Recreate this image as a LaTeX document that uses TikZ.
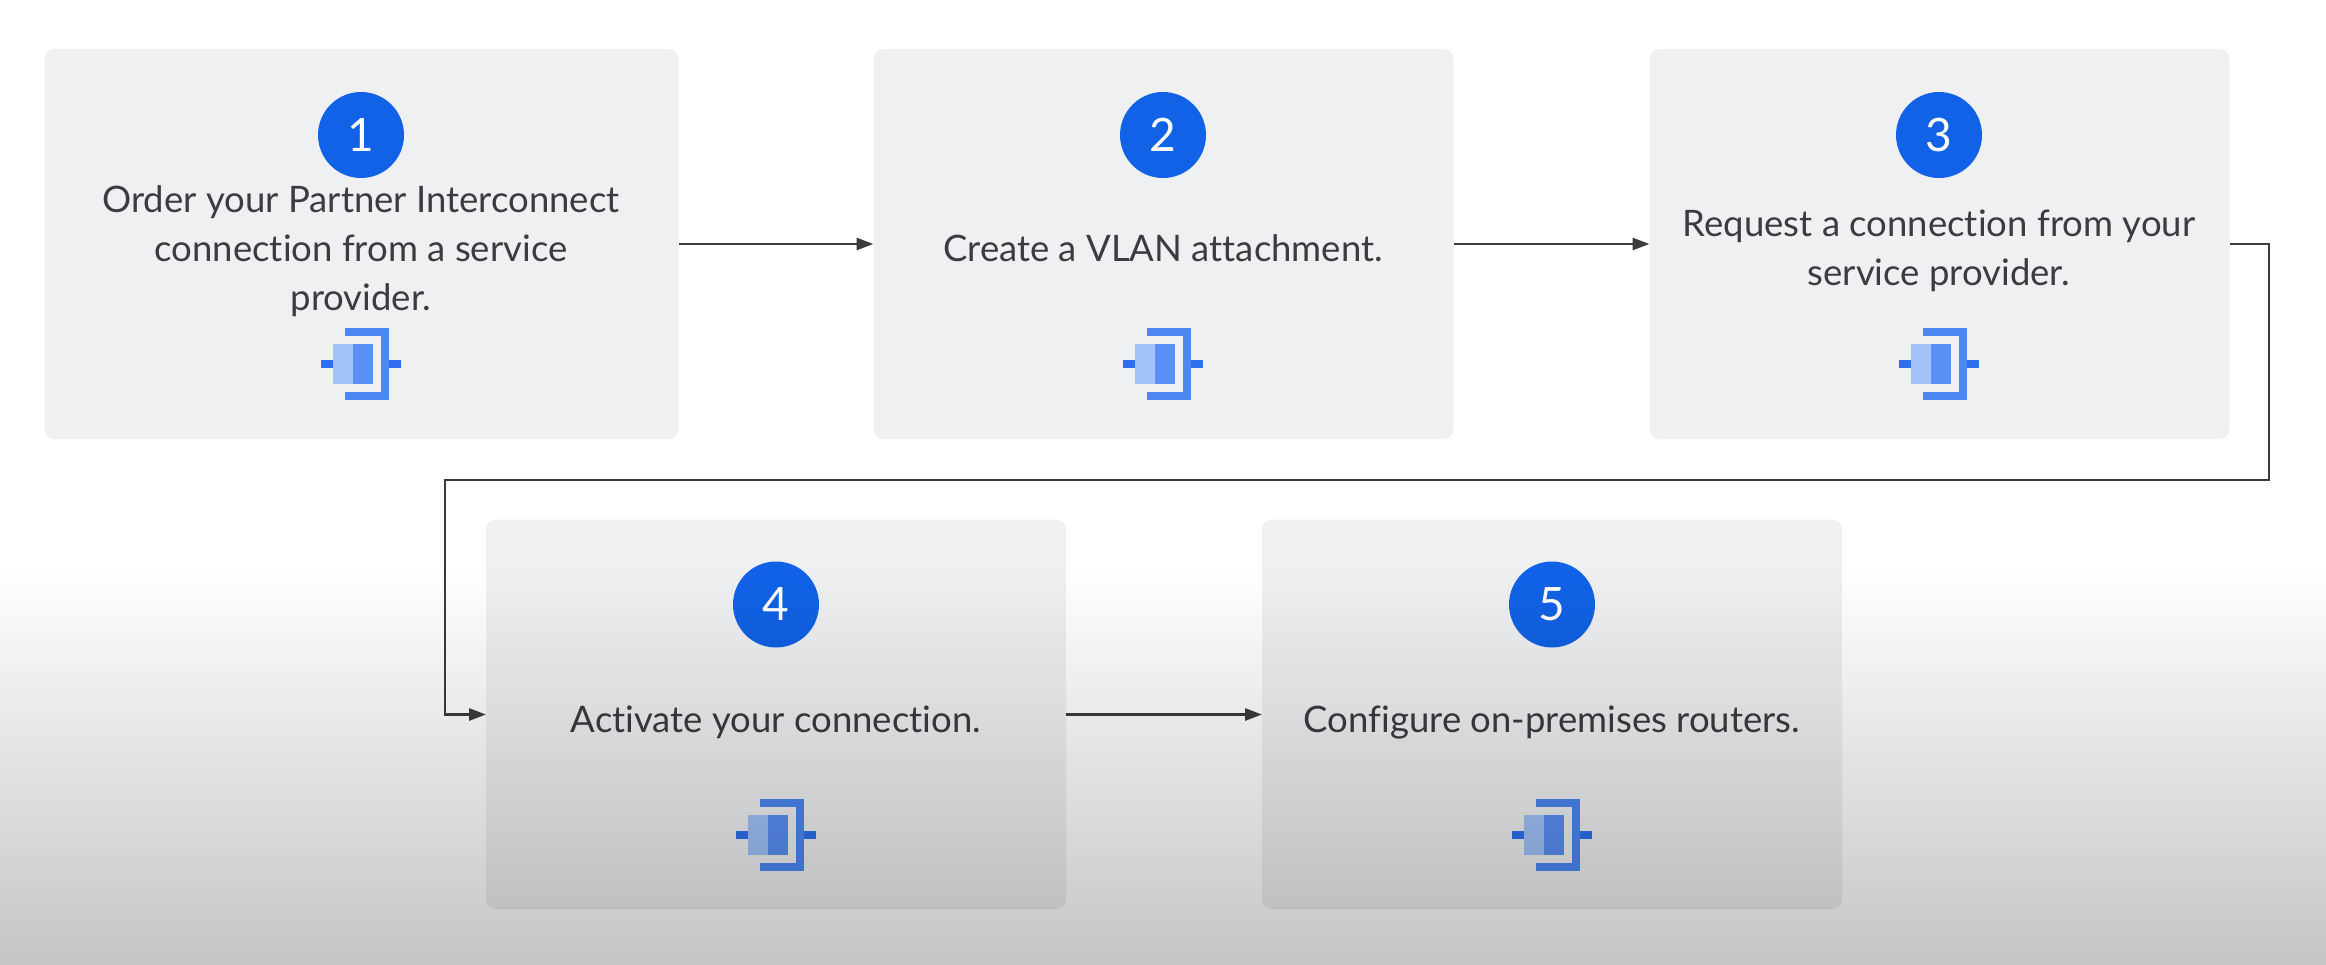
\documentclass[tikz,border=0pt]{standalone}
\usepackage{fontspec}
\setmainfont{Lato}[Ligatures=CommonOff]
\usetikzlibrary{arrows.meta,fadings}

\definecolor{stepfill}{HTML}{EEF0F2}
\definecolor{badgeblue}{HTML}{1162E6}
\definecolor{flowgray}{HTML}{3C3C3C}
\definecolor{labelgray}{HTML}{3A3C3F}
\definecolor{iconmain}{HTML}{4C88F3}
\definecolor{icontick}{HTML}{2F6FEE}
\definecolor{iconpale}{HTML}{A2C3FA}
\definecolor{iconmid}{HTML}{5A90F5}

\tikzfading[name=floorfade, top color=transparent!100, bottom color=transparent!77]

\tikzset{
	pics/linkicon/.style={
		code={
			\fill[iconmain] (-16,-36) rectangle (28,-28);
			\fill[iconmain] (20,-36) rectangle (28,36);
			\fill[iconmain] (-16,28) rectangle (28,36);
			\fill[icontick] (-40,-4) rectangle (-28,4);
			\fill[icontick] (28,-4) rectangle (40,4);
			\fill[iconpale] (-28,-20) rectangle (-8,20);
			\fill[iconmid] (-8,-20) rectangle (12,20);
		}
	}
}

\begin{document}
\begin{tikzpicture}[%
					x=1pt,
					y=-1pt,
					stepbox/.style={
						fill=stepfill,
						rounded corners=10pt,
						outer sep=0pt,
						inner sep=0pt
					},
					badge/.style={
						circle,
						fill=badgeblue,
						text=white,
						minimum size=86pt,
						inner sep=0pt,
						font=\fontsize{46}{46}\selectfont
					},
					steptext/.style={
						align=center,
						anchor=base,
						inner sep=0pt,
						text=labelgray,
						font=\fontsize{36.5}{48.7}\selectfont
					},
					flow/.style={
						draw=flowgray,
						line width=2.8pt,
						-{Triangle[length=17pt,width=12pt]}
					}
				]

				\useasboundingbox (0,0) rectangle (2326,964);

				\node (box1) [stepbox, minimum width=634pt, minimum height=390pt] at (361.5, 244) {};
				\node (box2) [stepbox, minimum width=580pt, minimum height=390pt] at (1163.5, 244) {};
				\node (box3) [stepbox, minimum width=580pt, minimum height=390pt] at (1939.5, 244) {};
				\node (box4) [stepbox, minimum width=580pt, minimum height=390pt] at (776, 714.5) {};
				\node (box5) [stepbox, minimum width=580pt, minimum height=390pt] at (1552, 714.5) {};

				\node (badge1) [badge] at (361, 135) {1};
				\node (badge2) [badge] at (1163, 135) {2};
				\node (badge3) [badge] at (1939, 135) {3};
				\node (badge4) [badge] at (776, 604.5) {4};
				\node (badge5) [badge] at (1552, 604.5) {5};

				\node (text1) [steptext] at (361, 310) {Order your Partner Interconnect\\connection from a service\\provider.};
				\node (text2) [steptext] at (1163, 261) {Create a VLAN attachment.};
				\node (text3) [steptext] at (1939, 285) {Request a connection from your\\service provider.};
				\node (text4) [steptext] at (776, 732) {Activate your connection.};
				\node (text5) [steptext] at (1552, 732) {Configure on-premises routers.};

				\pic at (361, 364) {linkicon};
				\pic at (1163, 364) {linkicon};
				\pic at (1939, 364) {linkicon};
				\pic at (776, 834.5) {linkicon};
				\pic at (1552, 834.5) {linkicon};

				\coordinate (turnright) at (2269, 480);
				\coordinate (turnleft) at (445, 480);

				\draw[flow] (box1) -- (box2);
				\draw[flow] (box2) -- (box3);
				\draw[flow] (box3.east) -| (turnright) -- (turnleft) |- (box4.west);
				\draw[flow] (box4) -- (box5);

				\fill[black, path fading=floorfade] (-40,568) rectangle (2366,968);
			\end{tikzpicture}
\end{document}
